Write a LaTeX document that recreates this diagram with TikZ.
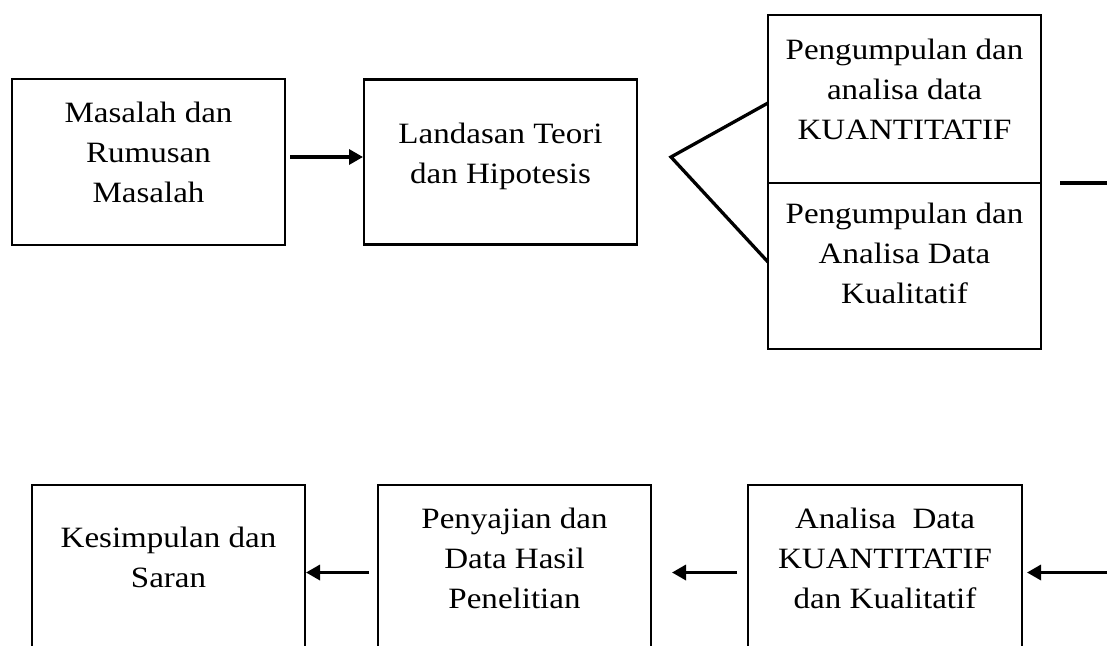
\documentclass[tikz,border=0pt]{standalone}
\usepackage{fontspec}
\setmainfont{Liberation Serif}[FakeStretch=1.12]
\usepackage{tikz}
\usetikzlibrary{positioning,arrows.meta}

\begin{document}
\begin{tikzpicture}[x=1pt,y=-1pt,
  box/.style={draw,rectangle,line width=2.6pt,minimum width=273pt,inner sep=0pt,outer sep=0pt},
  txt/.style={align=center,inner sep=0pt,font=\fontsize{29.5pt}{40pt}\selectfont},
  flow/.style={line width=3.3pt,-{Triangle[length=14pt,width=15pt]}},
  plain/.style={line width=3.3pt}]
\useasboundingbox (0,0) rectangle (1107,645);
\clip (0,0) rectangle (1107,645);

% top row
\node [box,minimum height=166pt] (masalah) at (148.5,162) {};
\node [txt,below=23pt of masalah.north] (masalahtxt) {Masalah dan\\Rumusan\\Masalah};
\node [box,minimum height=165pt] (landasan) at (500.5,162) {};
\node [txt,below=43pt of landasan.north] (landasantxt) {Landasan Teori\\dan Hipotesis};
\node [box,minimum height=168pt] (kuan) at (904.5,99) {};
\node [txt,below=24pt of kuan.north] (kuantxt) {Pengumpulan dan\\analisa data\\KUANTITATIF};
\node [box,minimum height=166pt] (kual) at (904.5,266) {};
\node [txt,below=20pt of kual.north] (kualtxt) {Pengumpulan dan\\Analisa Data\\Kualitatif};

% bottom row (boxes run off the page)
\node [box,minimum height=175pt] (kesimpulan) at (168.5,572.5) {};
\node [txt,below=42pt of kesimpulan.north] (kesimpulantxt) {Kesimpulan dan\\Saran};
\node [box,minimum height=175pt] (penyajian) at (514.5,572.5) {};
\node [txt,below=23pt of penyajian.north] (penyajiantxt) {Penyajian dan\\Data Hasil\\Penelitian};
\node [box,minimum height=175pt,minimum width=274pt] (analisa) at (885,572.5) {};
\node [txt,below=23pt of analisa.north] (analisatxt) {Analisa\ \ Data\\KUANTITATIF\\dan Kualitatif};

\coordinate (fork) at (671,157);
\coordinate (outR) at (1107,183);
\coordinate (inR) at (1107,572.5);

\draw [flow,shorten <=5pt,shorten >=1pt] ([yshift=5pt]masalah.east) -- ([yshift=5pt]landasan.west);
\draw [plain] ([yshift=-4pt]kuan.west) -- (fork) -- ([yshift=4pt]kual.west);
\draw [plain] ([xshift=19pt]kuan.south east) -- (outR);
\draw [flow,shorten >=5pt] (inR) -- (analisa.east);
\draw [flow,shorten <=11pt,shorten >=21pt] (analisa.west) -- (penyajian.east);
\draw [flow,shorten <=9pt,shorten >=1pt] (penyajian.west) -- (kesimpulan.east);
\end{tikzpicture}
\end{document}
